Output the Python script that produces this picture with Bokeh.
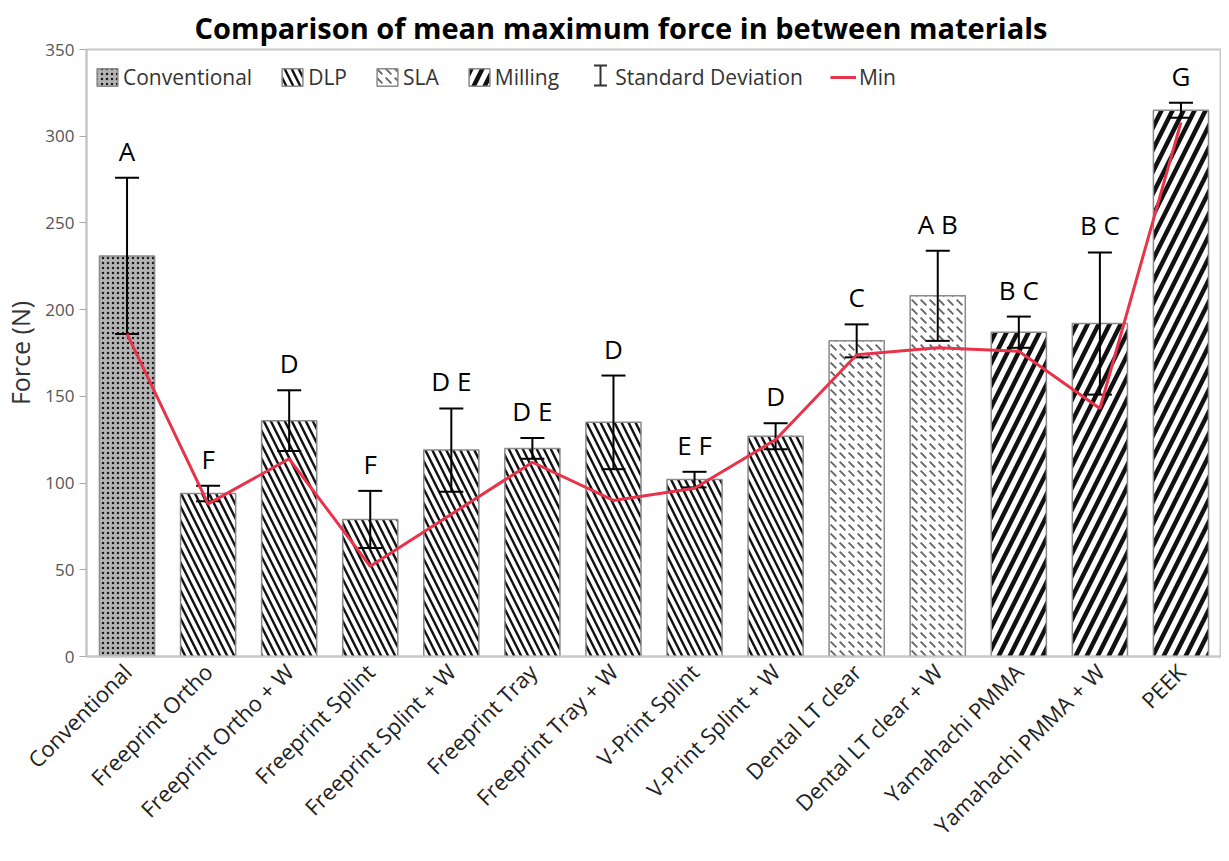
import numpy as np
from math import pi
from bokeh.plotting import figure
from bokeh.models import (ColumnDataSource, FactorRange, Range1d, Legend, LegendItem,
                          LabelSet, FixedTicker, Whisker, TeeHead)
from bokeh.core.properties import value
from bokeh.embed import file_html
from bokeh.resources import INLINE

# ---------------- data ----------------
categories = ["Conventional", "Freeprint Ortho", "Freeprint Ortho + W", "Freeprint Splint",
              "Freeprint Splint + W", "Freeprint Tray", "Freeprint Tray + W", "V-Print Splint",
              "V-Print Splint + W", "Dental LT clear", "Dental LT clear + W", "Yamahachi PMMA",
              "Yamahachi PMMA + W", "PEEK"]
materials = ["Conventional", "DLP", "DLP", "DLP", "DLP", "DLP", "DLP", "DLP", "DLP",
             "SLA", "SLA", "Milling", "Milling", "Milling"]
mean_force = [231, 94, 136, 79, 119, 120, 135, 102, 127, 182, 208, 187, 192, 315]
sd_force = [45, 4.5, 17.5, 16.5, 24, 6, 27, 4.5, 7.5, 9.5, 26, 9, 41, 4.3]
min_force = [186, 88, 114, 52, 82, 112, 90, 97, 125, 174, 178, 176, 143, 308]
group_letters = ["A", "F", "D", "F", "D E", "D E", "D", "E F", "D", "C", "A B", "B C", "B C", "G"]
y_ticks = [0, 50, 100, 150, 200, 250, 300, 350]
material_order = ["Conventional", "DLP", "SLA", "Milling"]

FONT = "Open Sans"

material_styles = {
    "Conventional": dict(fill_color="#b4b4b4", hatch_pattern="dot", hatch_scale=5,
                         hatch_weight=4.6, hatch_color="#1a1a1a"),
    "DLP": dict(fill_color="white", hatch_pattern="left_diagonal_line", hatch_scale=14,
                hatch_weight=2.4, hatch_color="#111111"),
    "SLA": dict(fill_color="white", hatch_pattern="left_diagonal_dash", hatch_scale=9,
                hatch_weight=1.8, hatch_color="#666666"),
    "Milling": dict(fill_color="white", hatch_pattern="right_diagonal_line", hatch_scale=22,
                    hatch_weight=4.5, hatch_color="#111111"),
}

upper = [m + s for m, s in zip(mean_force, sd_force)]
lower = [m - s for m, s in zip(mean_force, sd_force)]
src = ColumnDataSource(dict(cat=categories, mean=mean_force, upper=upper, lower=lower,
                            mn=min_force, letters=group_letters, mat=materials))

p = figure(x_range=FactorRange(factors=categories, range_padding=0),
           y_range=Range1d(0, 350), width=1221, height=853,
           output_backend="svg", toolbar_location=None,
           min_border_left=78, min_border_right=0, min_border_top=49, min_border_bottom=193)

bar_renderers = {}
for mat in material_order:
    idx = [i for i, m in enumerate(materials) if m == mat]
    s = ColumnDataSource(dict(cat=[categories[i] for i in idx], mean=[mean_force[i] for i in idx]))
    r = p.vbar(x="cat", top="mean", width=0.68, source=s,
               line_color="#8a8a8a", line_width=1.5, **material_styles[mat])
    bar_renderers[mat] = r

# error bars
p.segment(x0="cat", y0="lower", x1="cat", y1="upper", source=src, line_color="black", line_width=2)
p.scatter(x="cat", y="upper", source=src, marker="dash", size=24, line_color="black", line_width=2)
p.scatter(x="cat", y="lower", source=src, marker="dash", size=24, line_color="black", line_width=2)

# legend placeholder for SD (invisible); the "I" icon is drawn as a screen-space whisker
sd_leg = p.scatter(x=[categories[0]], y=[np.nan], marker="dash", size=1,
                   line_alpha=0, fill_alpha=0)
sd_icon_src = ColumnDataSource(dict(base=[514], lower=[571], upper=[591]))
sd_icon = Whisker(source=sd_icon_src, base="base", lower="lower", upper="upper",
                  dimension="height", base_units="screen", lower_units="screen",
                  upper_units="screen", line_color="#333333", line_width=2,
                  lower_head=TeeHead(size=13, line_width=2, line_color="#333333"),
                  upper_head=TeeHead(size=13, line_width=2, line_color="#333333"))
p.add_layout(sd_icon)

# min line
min_r = p.line(x="cat", y="mn", source=src, line_color="#e8334a", line_width=3)

# letters
labels = LabelSet(x="cat", y="upper", text="letters", source=src, text_align="center",
                  text_baseline="alphabetic", y_offset=17, text_font=value(FONT),
                  text_font_size=value("26px"), text_color="black")
p.add_layout(labels)

items = [LegendItem(label=m, renderers=[bar_renderers[m]]) for m in material_order]
items.append(LegendItem(label="Standard Deviation", renderers=[sd_leg]))
items.append(LegendItem(label="Min", renderers=[min_r]))
legend = Legend(items=items, orientation="horizontal", location=(8, 565),
                border_line_color=None, background_fill_alpha=0,
                label_text_font=FONT, label_text_font_size="21px", label_text_color="#333333",
                glyph_width=26, glyph_height=22, label_standoff=3, spacing=27,
                margin=0, padding=5, label_height=22)
p.add_layout(legend)

# axes
p.xgrid.visible = False
p.ygrid.visible = False
p.outline_line_color = "#c8c8c8"
p.outline_line_width = 2

p.xaxis.major_label_orientation = pi / 4
p.xaxis.major_label_text_font = FONT
p.xaxis.major_label_text_font_size = "22px"
p.xaxis.major_label_text_color = "#222222"
p.xaxis.major_tick_line_color = None
p.xaxis.axis_line_color = "#c8c8c8"
p.xaxis.axis_line_width = 2

p.yaxis.ticker = FixedTicker(ticks=y_ticks)
p.yaxis.minor_tick_line_color = None
p.yaxis.major_tick_in = 0
p.yaxis.major_tick_out = 7
p.yaxis.major_tick_line_color = "#aaaaaa"
p.yaxis.axis_line_color = "#c8c8c8"
p.yaxis.axis_line_width = 2
p.yaxis.major_label_text_font = FONT
p.yaxis.major_label_text_font_size = "17px"
p.yaxis.major_label_text_color = "#555555"
p.yaxis.axis_label = "Force (N)"
p.yaxis.axis_label_text_font = FONT
p.yaxis.axis_label_text_font_size = "25px"
p.yaxis.axis_label_text_font_style = "normal"
p.yaxis.axis_label_text_color = "#333333"
p.yaxis.axis_label_standoff = 5

p.title.text = "Comparison of mean maximum force in between materials"
p.title.text_font = FONT
p.title.text_font_size = "29px"
p.title.text_font_style = "bold"
p.title.text_color = "black"
p.title.align = "left"
p.title.offset = 108
p.title.standoff = 5

p.background_fill_color = "white"
p.border_fill_color = "white"

open("out.html", "w").write(file_html(p, INLINE))
